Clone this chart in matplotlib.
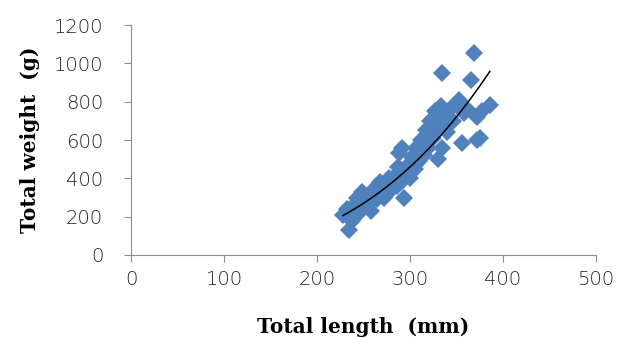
import numpy as np
import matplotlib
matplotlib.use("Agg")
import matplotlib.pyplot as plt

# total length (mm) and total weight (g)
length_mm = [228, 232, 235, 238, 240, 243, 245, 248, 250, 252,
             255, 258, 260, 263, 265, 268, 270, 272, 275, 278,
             280, 282, 285, 287, 288, 290, 292, 294, 295, 298,
             300, 302, 305, 307, 310, 312, 315, 317, 320, 322,
             325, 327, 330, 330, 333, 335, 335, 338, 340, 343,
             346, 350, 353, 356, 358, 362, 366, 369, 372, 375,
             372, 378, 386, 236, 246, 256, 266, 276, 286, 296,
             306, 316, 326, 342]
weight_g = [210, 240, 130, 180, 260, 300, 220, 330, 250, 280,
            300, 230, 320, 350, 290, 380, 330, 300, 360, 400,
            340, 370, 420, 460, 530, 380, 560, 300, 430, 470,
            400, 510, 450, 560, 490, 600, 520, 650, 560, 700,
            610, 750, 500, 680, 780, 948, 560, 720, 640, 760,
            700, 790, 810, 583, 740, 760, 913, 1055, 720, 609,
            600, 750, 782, 230, 270, 270, 330, 330, 360, 420,
            470, 580, 640, 690]

x_ticks = [0, 100, 200, 300, 400, 500]
y_ticks = [0, 200, 400, 600, 800, 1000, 1200]

L = np.array(length_mm, dtype=float)
W = np.array(weight_g, dtype=float)

# power trendline W = a * L^b
b, log_a = np.polyfit(np.log(L), np.log(W), 1)
a = np.exp(log_a)
xs = np.linspace(L.min(), L.max(), 200)

fig = plt.figure(figsize=(6.18, 3.38), dpi=100)
ax = fig.add_axes([0.212, 0.2456, 0.752, 0.68])

ax.plot(L, W, linestyle="none", marker="D", markersize=9,
        color="#4F81BD", markeredgewidth=0)
ax.plot(xs, a * xs ** b, color="black", linewidth=1.1)

ax.set_xlim(0, 500)
ax.set_ylim(0, 1200)
ax.set_xticks(x_ticks)
ax.set_yticks(y_ticks)

for side in ["top", "right"]:
    ax.spines[side].set_visible(False)
for side in ["left", "bottom"]:
    ax.spines[side].set_color("#8c8c8c")
ax.tick_params(axis="both", direction="out", length=5, color="#8c8c8c",
               labelsize=14, labelcolor="#222222")
ax.tick_params(axis="y", pad=15)
ax.tick_params(axis="x", pad=6)
for lbl in ax.get_xticklabels() + ax.get_yticklabels():
    lbl.set_family("DejaVu Sans")
    lbl.set_fontweight("light")

ax.set_xlabel("Total length  (mm)", family="DejaVu Serif",
              fontweight="bold", fontsize=14.5, labelpad=20)
ax.set_ylabel("Total weight  (g)", family="DejaVu Serif",
              fontweight="bold", fontsize=14.5, labelpad=10)

fig.savefig("out.png", dpi=100, facecolor="white")
